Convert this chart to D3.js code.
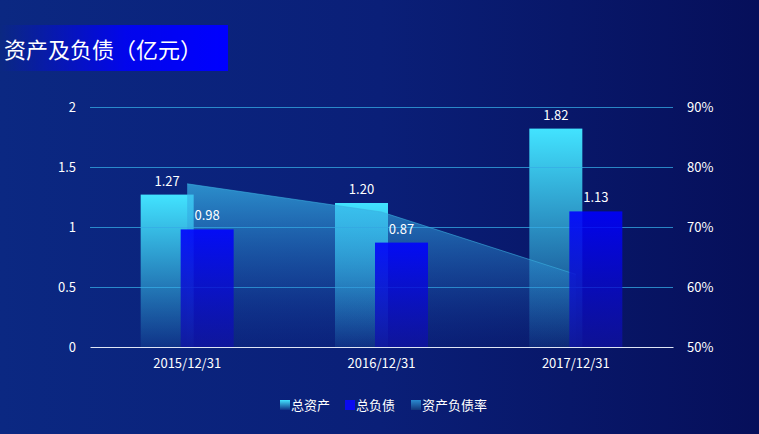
<!DOCTYPE html>
<html><head><meta charset="utf-8">
<script src="https://cdn.jsdelivr.net/npm/d3@7/dist/d3.min.js"></script>
<style>
html,body{margin:0;padding:0;}
body{width:759px;height:434px;overflow:hidden;}
text{font-family:"Noto Sans CJK SC","Noto Sans",sans-serif;}
</style></head>
<body>
<svg id="c" width="759" height="434"></svg>
<script>
const categories = ["2015/12/31","2016/12/31","2017/12/31"];
const totalAssets = [1.27, 1.20, 1.82];
const totalDebt = [0.98, 0.87, 1.13];
const debtRatio = [77.2, 72.5, 62.1];
const leftTicks = [0, 0.5, 1, 1.5, 2];
const rightTicks = [50, 60, 70, 80, 90];
const legendNames = ["总资产","总负债","资产负债率"];
const titleText = "资产及负债（亿元）";

const svg = d3.select("#c");
const W = 759, H = 434;
const m = {l:90, r:86, t:107, b:87};
const x0 = m.l, x1 = W - m.r, yTop = m.t, yBot = H - m.b;

const defs = svg.append("defs");
function lin(id, x1_, y1_, x2_, y2_, stops){
  const g = defs.append("linearGradient").attr("id", id)
    .attr("x1",x1_).attr("y1",y1_).attr("x2",x2_).attr("y2",y2_);
  stops.forEach(s=>g.append("stop").attr("offset",s[0]).attr("stop-color",s[1]).attr("stop-opacity",s[2]));
}
lin("bg","0","0","1","0",[[0,"#0b2882",1],[0.5,"#0a1f78",1],[1,"#060f5a",1]]);
lin("ttl","0","0","1","0",[[0,"#0000ff",0],[0.55,"#0000ff",0.85],[1,"#0000ff",1]]);
lin("ga","0","0","0","1",[[0,"#42e3ff",1],[1,"#42e3ff",0.08]]);
lin("gd","0","0","0","1",[[0,"#0000ff",0.88],[1,"#1010a8",0.7]]);
lin("gr","0","0","0","1",[[0,"#38b8ea",0.72],[0.6,"#2a88d0",0.3],[1,"#1a50b0",0.05]]);
lin("gl","0","0","0","1",[[0,"#2a8ad0",1],[1,"#12357a",1]]);

svg.append("rect").attr("width",W).attr("height",H).attr("fill","url(#bg)");

// title
svg.append("rect").attr("x",0).attr("y",25).attr("width",228).attr("height",46).attr("fill","url(#ttl)");
svg.append("text").attr("x",4).attr("y",58).attr("fill","#fff").attr("font-size",22).text(titleText);

const xScale = d3.scaleBand().domain(categories).range([x0,x1]).paddingInner(0).paddingOuter(0);
const yL = d3.scaleLinear().domain([0,2]).range([yBot,yTop]);
const yR = d3.scaleLinear().domain([50,90]).range([yBot,yTop]);

const bw = 53;
const cx = d => xScale(d) + xScale.bandwidth()/2;
const offA = -20, offD = 20;

// asset bars
svg.append("g").selectAll("rect").data(categories).join("rect")
  .attr("x",(d)=>cx(d)+offA-bw/2).attr("width",bw)
  .attr("y",(d,i)=>yL(totalAssets[i])).attr("height",(d,i)=>yBot-yL(totalAssets[i]))
  .attr("fill","url(#ga)");

// grid
svg.append("g").selectAll("line").data(leftTicks.filter(d=>d>0)).join("line")
  .attr("x1",x0).attr("x2",x1).attr("y1",d=>yL(d)+0.5).attr("y2",d=>yL(d)+0.5)
  .attr("stroke","#36ace6").attr("stroke-opacity",0.75).attr("stroke-width",1);

// ratio area
const pts = categories.map((c,i)=>[cx(c), yR(debtRatio[i])]);
const area = d3.area().x(d=>d[0]).y0(yBot).y1(d=>d[1]);
svg.append("path").datum(pts).attr("d",area).attr("fill","url(#gr)");
svg.append("path").datum(pts).attr("d",d3.line()).attr("fill","none")
  .attr("stroke","#3ab0e0").attr("stroke-opacity",0.6).attr("stroke-width",1);

// debt bars
svg.append("g").selectAll("rect").data(categories).join("rect")
  .attr("x",(d)=>cx(d)+offD-bw/2).attr("width",bw)
  .attr("y",(d,i)=>yL(totalDebt[i])).attr("height",(d,i)=>yBot-yL(totalDebt[i]))
  .attr("fill","url(#gd)");

// axes
const axL = svg.append("g").attr("transform",`translate(${x0},0)`)
  .call(d3.axisLeft(yL).tickValues(leftTicks).tickFormat(d=>String(d)).tickSize(0).tickPadding(14));
axL.select(".domain").remove();
axL.selectAll("text").attr("fill","#fff").attr("font-size",13).attr("font-family","Noto Sans CJK SC, Noto Sans, sans-serif");

const axR = svg.append("g").attr("transform",`translate(${x1},0)`)
  .call(d3.axisRight(yR).tickValues(rightTicks).tickFormat(d=>d+"%").tickSize(0).tickPadding(14));
axR.select(".domain").remove();
axR.selectAll("text").attr("fill","#fff").attr("font-size",13).attr("font-family","Noto Sans CJK SC, Noto Sans, sans-serif");

const axB = svg.append("g").attr("transform",`translate(0,${yBot})`)
  .call(d3.axisBottom(xScale).tickSize(0).tickPadding(12));
axB.select(".domain").attr("stroke","#dfe6f5").attr("stroke-width",1.2);
axB.selectAll("text").attr("fill","#fff").attr("font-size",13).attr("font-family","Noto Sans CJK SC, Noto Sans, sans-serif");

// labels
svg.append("g").selectAll("text").data(categories).join("text")
  .attr("x",d=>cx(d)+offA).attr("y",(d,i)=>yL(totalAssets[i])-9)
  .attr("text-anchor","middle").attr("fill","#fff").attr("font-size",13)
  .text((d,i)=>totalAssets[i].toFixed(2));
svg.append("g").selectAll("text").data(categories).join("text")
  .attr("x",d=>cx(d)+offD).attr("y",(d,i)=>yL(totalDebt[i])-9)
  .attr("text-anchor","middle").attr("fill","#fff").attr("font-size",13)
  .text((d,i)=>totalDebt[i].toFixed(2));

// legend
const legFills = ["url(#ga)","#0a0af0","url(#gl)"];
const legX = [280, 345, 411];
const lg = svg.append("g");
legendNames.forEach((n,i)=>{
  const g = lg.append("g").attr("transform",`translate(${legX[i]},${400})`);
  g.append("rect").attr("width",10).attr("height",10).attr("fill",legFills[i]);
  g.append("text").attr("x",11).attr("y",10).attr("fill","#fff").attr("font-size",13).text(n);
});
</script>
</body></html>
